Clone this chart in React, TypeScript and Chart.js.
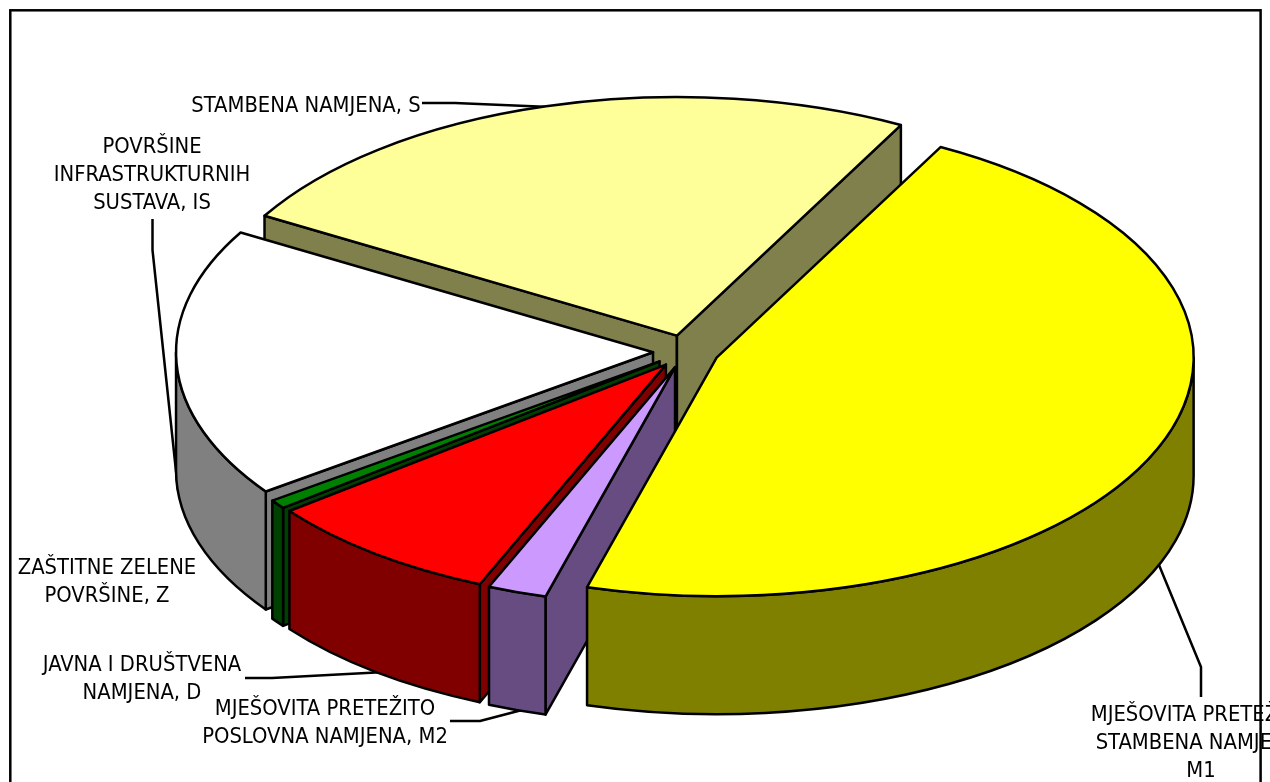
import React, { useEffect, useRef } from "react";
import { Chart, registerables } from "chart.js";

Chart.register(...registerables);

// Data, in drawing order clockwise from the first slice's start
const categories = [
  "MJEŠOVITA PRETEŽITO STAMBENA NAMJENA, M1",
  "MJEŠOVITA PRETEŽITO POSLOVNA NAMJENA, M2",
  "JAVNA I DRUŠTVENA NAMJENA, D",
  "ZAŠTITNE ZELENE POVRŠINE, Z",
  "POVRŠINE INFRASTRUKTURNIH SUSTAVA, IS",
  "STAMBENA NAMJENA, S",
];
const shares = [46.6, 2.0, 8.1, 0.6, 18.3, 24.4];

const topColors = ["#FFFF00", "#CC99FF", "#FF0000", "#008000", "#FFFFFF", "#FFFF99"];
const wallColors = ["#808000", "#664C80", "#800000", "#004000", "#808080", "#80804D"];

const labelLines = [
  ["MJEŠOVITA PRETEŽITO", "STAMBENA NAMJENA,", "M1"],
  ["MJEŠOVITA PRETEŽITO", "POSLOVNA NAMJENA, M2"],
  ["JAVNA I DRUŠTVENA", "NAMJENA, D"],
  ["ZAŠTITNE ZELENE", "POVRŠINE, Z"],
  ["POVRŠINE", "INFRASTRUKTURNIH", "SUSTAVA, IS"],
  ["STAMBENA NAMJENA, S"],
];

// Layout only
const labelAnchors = [
  { x: 1201, y: 715 },
  { x: 325, y: 709 },
  { x: 142, y: 665 },
  { x: 107, y: 568 },
  { x: 152, y: 147 },
  { x: 306, y: 106 },
];
const leaders = [
  [[1159, 565], [1201, 667], [1201, 697]],
  [[450, 721], [480, 721], [522, 710]],
  [[245, 678], [272, 678], [385, 672]],
  null,
  [[152.5, 219], [152.5, 250], [178, 490]],
  [[422, 103], [455, 103], [550, 107]],
];

const RADIUS = 477;
const EXPLODE = 33;
const TILT = 0.5;
const DEPTH = 118;
const LINE_HEIGHT = 28;
const FONT = '21.8px "DejaVu Sans Condensed", "DejaVu Sans", sans-serif';

const pie3d = {
  id: "pie3d",
  beforeDraw(chart: any) {
    const { ctx } = chart;
    ctx.save();
    ctx.strokeStyle = "#000";
    ctx.lineWidth = 2.5;
    ctx.strokeRect(10.3, 10.3, 1250.3, 900);
    ctx.restore();
  },
  beforeDatasetDraw(chart: any, args: any) {
    const { ctx } = chart;
    const arcs = args.meta.data;

    ctx.save();
    ctx.strokeStyle = "#000";
    ctx.lineWidth = 2.5;
    ctx.lineJoin = "round";
    leaders.forEach((pts) => {
      if (!pts) return;
      ctx.beginPath();
      pts.forEach(([x, y]: number[], i: number) => (i ? ctx.lineTo(x, y) : ctx.moveTo(x, y)));
      ctx.stroke();
    });

    // back to front: the last slice of the data sits furthest back
    for (let i = arcs.length - 1; i >= 0; i--) {
      const arc = arcs[i];
      const { x, y, startAngle, endAngle, outerRadius } = arc.getProps([
        "x", "y", "startAngle", "endAngle", "outerRadius",
      ]);
      const mid = (startAngle + endAngle) / 2;
      const shiftX = Math.cos(mid) * EXPLODE;
      const shiftY = Math.sin(mid) * EXPLODE;
      const cx = x + shiftX;
      const cy = y + shiftY * TILT;
      const rx = outerRadius;
      const ry = outerRadius * TILT;
      const px = (a: number) => cx + Math.cos(a) * rx;
      const py = (a: number) => cy + Math.sin(a) * ry;

      ctx.fillStyle = wallColors[i];

      // radial walls: only those that face the viewer
      const radial = (a: number) => {
        ctx.beginPath();
        ctx.moveTo(cx, cy);
        ctx.lineTo(px(a), py(a));
        ctx.lineTo(px(a), py(a) + DEPTH);
        ctx.lineTo(cx, cy + DEPTH);
        ctx.closePath();
        ctx.fill();
        ctx.stroke();
      };
      if (Math.cos(startAngle) < 0) radial(startAngle);
      if (Math.cos(endAngle) > 0) radial(endAngle);

      const lo = Math.max(startAngle, 0);
      const hi = Math.min(endAngle, Math.PI);
      if (lo < hi) {
        ctx.beginPath();
        ctx.ellipse(cx, cy, rx, ry, 0, lo, hi);
        ctx.ellipse(cx, cy + DEPTH, rx, ry, 0, hi, lo, true);
        ctx.closePath();
        ctx.fill();
        ctx.stroke();
      }

      // top face, drawn by the arc element under the tilt transform
      ctx.save();
      ctx.translate(shiftX, y + shiftY * TILT);
      ctx.scale(1, TILT);
      ctx.translate(0, -y);
      arc.draw(ctx);
      ctx.restore();

      ctx.beginPath();
      ctx.moveTo(cx, cy);
      ctx.ellipse(cx, cy, rx, ry, 0, startAngle, endAngle);
      ctx.closePath();
      ctx.stroke();
    }
    ctx.restore();
    return false;
  },
  afterDraw(chart: any) {
    const { ctx } = chart;
    ctx.save();
    ctx.font = FONT;
    ctx.fillStyle = "#000";
    ctx.textAlign = "center";
    ctx.textBaseline = "middle";
    labelLines.forEach((lines, i) => {
      lines.forEach((line, j) => {
        ctx.fillText(line, labelAnchors[i].x, labelAnchors[i].y + j * LINE_HEIGHT);
      });
    });
    ctx.restore();
  },
};

export default function App() {
  const ref = useRef<HTMLCanvasElement>(null);
  useEffect(() => {
    document.body.style.overflow = "hidden";
    const chart = new Chart(ref.current as HTMLCanvasElement, {
      type: "pie",
      data: {
        labels: categories,
        datasets: [
          {
            data: shares,
            backgroundColor: topColors,
            borderWidth: 0,
            offset: 0,
            hoverOffset: 0,
            radius: RADIUS,
            rotation: 28,
          } as any,
        ],
      },
      options: {
        responsive: false,
        animation: false,
        events: [],
        layout: { padding: { left: 102, bottom: 79 } },
        plugins: { legend: { display: false }, tooltip: { enabled: false }, title: { display: false } },
      },
      plugins: [pie3d],
    } as any);
    return () => chart.destroy();
  }, []);
  return (
    <canvas
      ref={ref}
      width={1270}
      height={782}
      style={{ position: "fixed", left: 0, top: 0, display: "block" }}
    />
  );
}
